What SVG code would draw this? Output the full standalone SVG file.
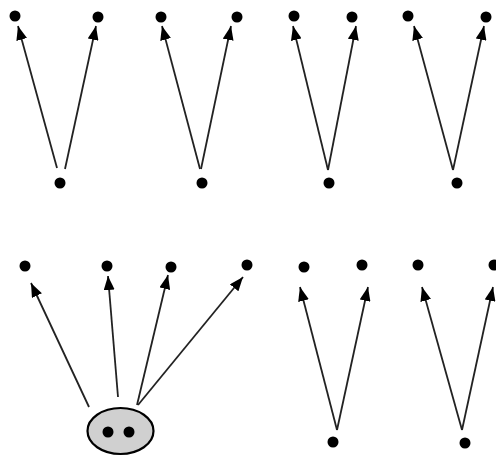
<svg xmlns="http://www.w3.org/2000/svg" width="496" height="457" viewBox="0 0 496 457">
<style>
.dot{fill:#000}
.e{stroke:#222;stroke-width:1.8;fill:none;marker-end:url(#ah)}
</style>
<defs>
<marker id="ah" viewBox="0 0 14 11" refX="14" refY="5.5" markerWidth="14" markerHeight="11" markerUnits="userSpaceOnUse" orient="auto">
<path d="M0,0 L14,5.5 L0,11 Z" fill="#000"/>
</marker>
</defs>
<rect width="496" height="457" fill="#fff"/>
<g id="connectors">
<line class="e" x1="57" y1="168" x2="18" y2="26"/>
<line class="e" x1="65" y1="169" x2="96" y2="26"/>
<line class="e" x1="200" y1="169" x2="162" y2="26"/>
<line class="e" x1="201" y1="169" x2="231" y2="26"/>
<line class="e" x1="328" y1="170" x2="293" y2="26"/>
<line class="e" x1="328" y1="170" x2="356" y2="26"/>
<line class="e" x1="453" y1="170" x2="414" y2="26"/>
<line class="e" x1="453" y1="170" x2="484" y2="26"/>
<line class="e" x1="89" y1="407" x2="31" y2="283"/>
<line class="e" x1="118" y1="397" x2="108" y2="276"/>
<line class="e" x1="137" y1="405" x2="168" y2="275"/>
<line class="e" x1="138" y1="405" x2="243" y2="277"/>
<line class="e" x1="337" y1="430" x2="300" y2="287"/>
<line class="e" x1="337" y1="430" x2="368" y2="287"/>
<line class="e" x1="462" y1="430" x2="422" y2="287"/>
<line class="e" x1="462" y1="430" x2="493" y2="287"/>
</g>
<g id="g1">
<circle class="dot" cx="15" cy="16" r="5.5"/>
<circle class="dot" cx="98" cy="17" r="5.5"/>
<circle class="dot" cx="60" cy="183" r="5.5"/>
</g>
<g id="g2">
<circle class="dot" cx="161" cy="17" r="5.5"/>
<circle class="dot" cx="237" cy="17" r="5.5"/>
<circle class="dot" cx="202" cy="183" r="5.5"/>
</g>
<g id="g3">
<circle class="dot" cx="294" cy="16" r="5.5"/>
<circle class="dot" cx="352" cy="17" r="5.5"/>
<circle class="dot" cx="329" cy="183" r="5.5"/>
</g>
<g id="g4">
<circle class="dot" cx="408" cy="16" r="5.5"/>
<circle class="dot" cx="486" cy="17" r="5.5"/>
<circle class="dot" cx="457" cy="183" r="5.5"/>
</g>
<g id="g5">
<circle class="dot" cx="25" cy="266" r="5.5"/>
<circle class="dot" cx="107" cy="266" r="5.5"/>
<circle class="dot" cx="171" cy="267" r="5.5"/>
<circle class="dot" cx="247" cy="265" r="5.5"/>
<ellipse cx="120.5" cy="431" rx="33" ry="23" fill="#d0d0d0" stroke="#000" stroke-width="2.2"/>
<circle class="dot" cx="108" cy="432" r="5.5"/>
<circle class="dot" cx="129" cy="432" r="5.5"/>
</g>
<g id="g6">
<circle class="dot" cx="304" cy="267" r="5.5"/>
<circle class="dot" cx="362" cy="265" r="5.5"/>
<circle class="dot" cx="333" cy="442" r="5.5"/>
</g>
<g id="g7">
<circle class="dot" cx="418" cy="265" r="5.5"/>
<circle class="dot" cx="494" cy="265" r="5.5"/>
<circle class="dot" cx="465" cy="443" r="5.5"/>
</g>
</svg>
